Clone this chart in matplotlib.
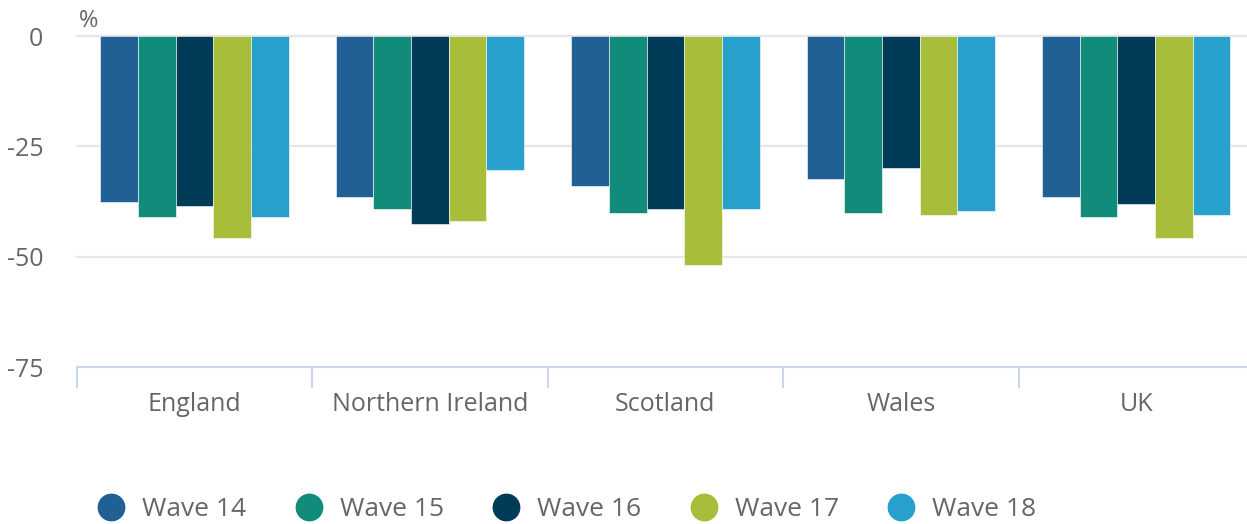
import matplotlib.pyplot as plt
import numpy as np
from matplotlib.lines import Line2D

plt.rcParams['font.family'] = ['Open Sans', 'DejaVu Sans']

countries = ['England', 'Northern Ireland', 'Scotland', 'Wales', 'UK']
waves = ['Wave 14', 'Wave 15', 'Wave 16', 'Wave 17', 'Wave 18']
wave14 = [-37.5, -36.5, -33.9, -32.5, -36.5]
wave15 = [-41.1, -39.1, -40.0, -40.0, -41.1]
wave16 = [-38.6, -42.7, -39.1, -29.8, -38.0]
wave17 = [-45.7, -42.0, -51.8, -40.5, -45.7]
wave18 = [-41.1, -30.4, -39.1, -39.6, -40.6]
colors = ['#206095', '#118c7b', '#003c57', '#a8bd3a', '#27a0cc']

series = [wave14, wave15, wave16, wave17, wave18]
text_col = '#666666'
W, H = 1247, 524

fig = plt.figure(figsize=(W / 100, H / 100), dpi=100)
ax = fig.add_axes([76.75 / W, 1 - 367 / H, (1254 - 76.75) / W, 331 / H])

x = np.arange(len(countries))
w = 0.8 / len(series)
for i, vals in enumerate(series):
    ax.bar(x - 0.4 + w * (i + 0.5), vals, width=w, color=colors[i],
           edgecolor='white', linewidth=0.4, zorder=3)

ax.set_xlim(-0.5, len(countries) - 0.5)
ax.set_ylim(-75, 0)
ax.set_yticks([0, -25, -50, -75])
ax.set_yticklabels(['0', '-25', '-50', '-75'])
for y in [0, -25, -50]:
    ax.axhline(y, color='#e6e6e6', linewidth=1.6, zorder=1, clip_on=False)

for s in ['top', 'right', 'left']:
    ax.spines[s].set_visible(False)
ax.spines['bottom'].set_color('#ccd6eb')
ax.spines['bottom'].set_linewidth(1.5)

ax.set_xticks(x)
ax.set_xticklabels(countries)
ax.tick_params(axis='x', length=0, pad=18, labelsize=18, labelcolor=text_col)
ax.set_xticks(np.arange(len(countries) + 1) - 0.5, minor=True)
ax.tick_params(axis='x', which='minor', length=15, width=1.5, color='#ccd6eb')
ax.tick_params(axis='y', length=0, pad=24, labelsize=18, labelcolor=text_col)

fig.text(79 / W, 1 - 21 / H, '%', fontsize=17, color=text_col,
         ha='left', va='center')

# legend drawn by hand to match item spacing
leg_x = [111, 309, 506, 704, 901]
for lx, c, lab in zip(leg_x, colors, waves):
    fig.add_artist(Line2D([lx / W], [1 - 507 / H], marker='o', markersize=19,
                          markerfacecolor=c, markeredgecolor=c,
                          linestyle='none', transform=fig.transFigure))
    fig.text((lx + 31) / W, 1 - 509 / H, lab, fontsize=19, color=text_col,
             ha='left', va='center')

fig.savefig('out.png', dpi=100)
